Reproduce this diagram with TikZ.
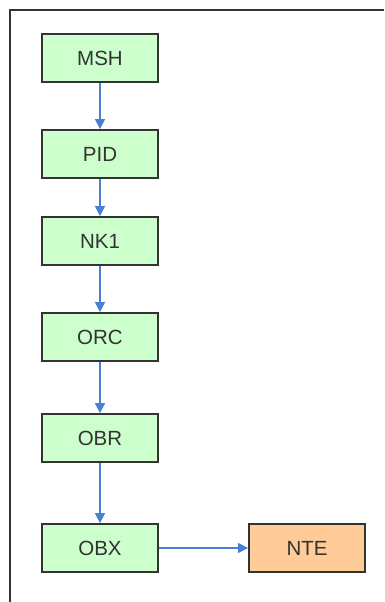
\documentclass[tikz,border=0pt]{standalone}
\usepackage{fontspec}
\setmainfont{Liberation Sans}
\usetikzlibrary{arrows.meta}
\definecolor{boxgreen}{HTML}{CCFFCC}
\definecolor{boxorange}{HTML}{FFCC99}
\definecolor{edgegray}{HTML}{333333}
\definecolor{arrowblue}{HTML}{4A7FD6}
\begin{document}
\begin{tikzpicture}[x=1pt,y=-1pt,
  seg/.style={draw=edgegray,line width=1.8pt,minimum width=116pt,minimum height=48pt,inner sep=0pt,
    font=\fontsize{20.5}{24}\selectfont,text=edgegray},
  gseg/.style={seg,fill=boxgreen},
  oseg/.style={seg,fill=boxorange},
  link/.style={draw=arrowblue,line width=1.4pt,-{Triangle[length=10pt,width=10pt]}}]
\useasboundingbox (0,0) rectangle (384,602);
\draw[edgegray,line width=2pt] (10,602) -- (10,10) -- (384,10);
\node[gseg] (msh) at (100,58) {MSH};
\node[gseg] (pid) at (100,154) {PID};
\node[gseg] (nk1) at (100,241) {NK1};
\node[gseg] (orc) at (100,337) {ORC};
\node[gseg] (obr) at (100,438) {OBR};
\node[gseg] (obx) at (100,548) {OBX};
\node[oseg] (nte) at (307,548) {NTE};
\draw[link] (msh) -- (pid);
\draw[link] (pid) -- (nk1);
\draw[link] (nk1) -- (orc);
\draw[link] (orc) -- (obr);
\draw[link] (obr) -- (obx);
\draw[link] (obx) -- (nte);
\end{tikzpicture}
\end{document}
